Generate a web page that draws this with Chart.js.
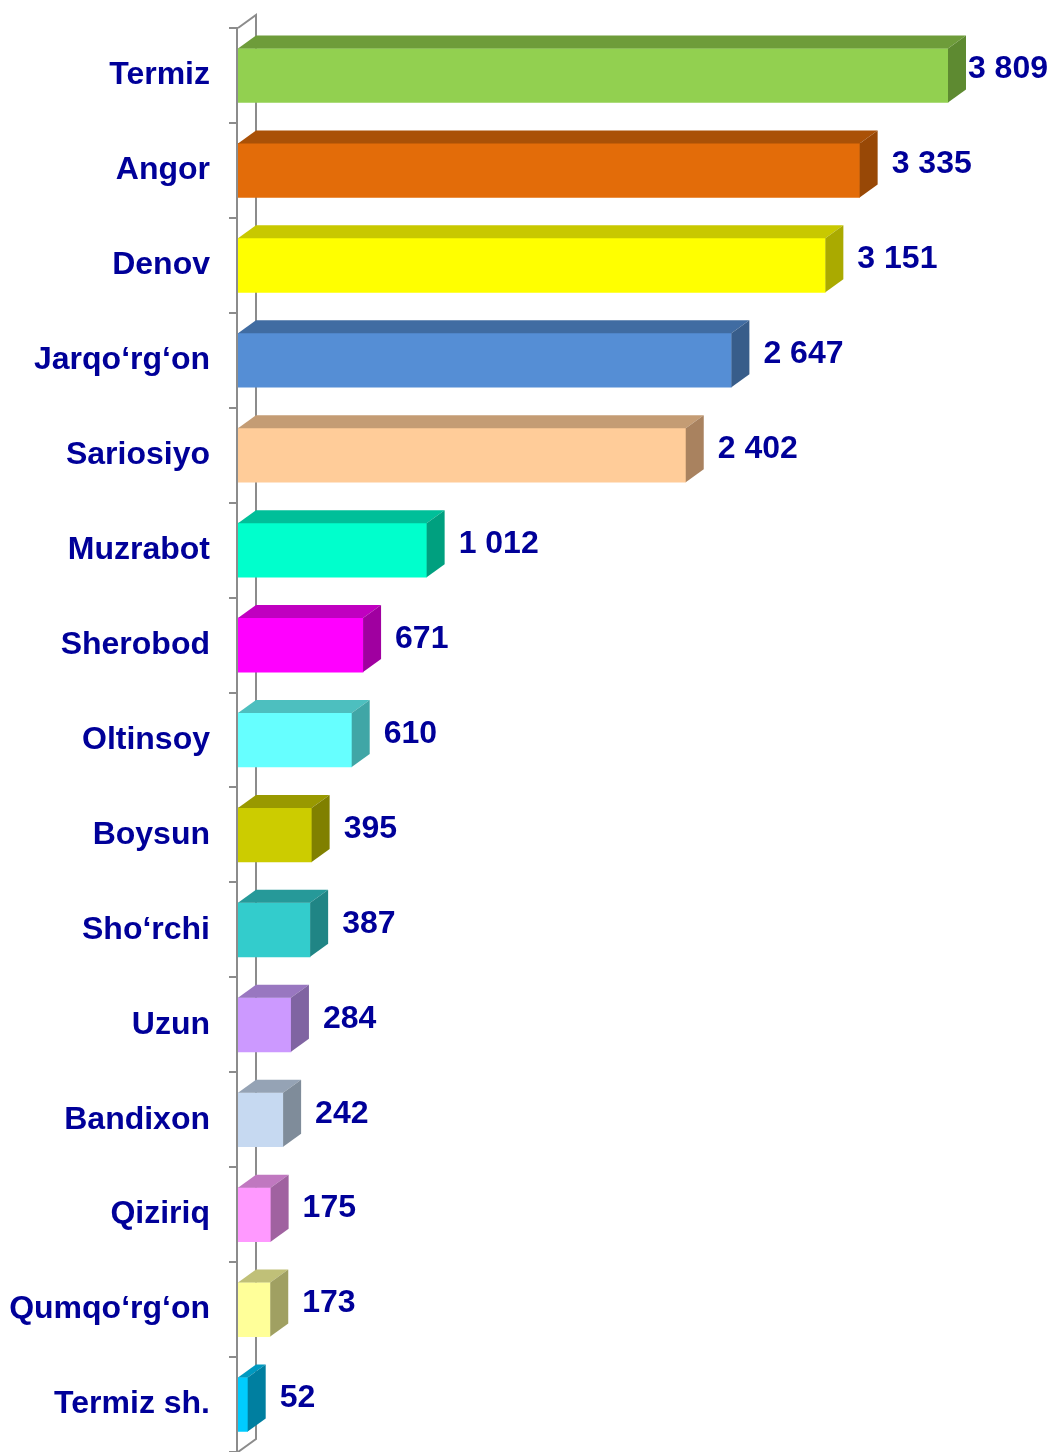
<!DOCTYPE html>
<html>
<head>
<meta charset="utf-8">
<script src="https://cdn.jsdelivr.net/npm/chart.js@4"></script>
<style>
  html, body { margin: 0; padding: 0; background: #fff; }
  canvas { display: block; }
</style>
</head>
<body>
<canvas id="chart" width="1054" height="1452"></canvas>
<script>
'use strict';

var districts = [
  'Termiz', 'Angor', 'Denov', 'Jarqo‘rg‘on', 'Sariosiyo', 'Muzrabot',
  'Sherobod', 'Oltinsoy', 'Boysun', 'Sho‘rchi', 'Uzun', 'Bandixon',
  'Qiziriq', 'Qumqo‘rg‘on', 'Termiz sh.'
];

var counts = [
  3809, 3335, 3151, 2647, 2402, 1012,
  671, 610, 395, 387, 284, 242,
  175, 173, 52
];

// Front, top and side shades of each box.
var frontColors = [
  '#92D050', '#E36C09', '#FFFF00', '#558ED5', '#FFCC99', '#00FFCC',
  '#FF00FF', '#66FFFF', '#CCCC00', '#33CCCC', '#CC99FF', '#C6D9F1',
  '#FF99FF', '#FFFF99', '#00CCFF'
];
var topColors = [
  '#6E9C3A', '#AA5107', '#C8C800', '#406CA2', '#C49C74', '#00BF99',
  '#C000C0', '#4DBFBF', '#999900', '#269999', '#9977C0', '#95A3B5',
  '#C078C0', '#C0C078', '#0099C0'
];
var sideColors = [
  '#5E8A31', '#984806', '#AAAA00', '#385D8A', '#A9825F', '#00A07F',
  '#A000A0', '#40A6A6', '#808000', '#208585', '#8064A2', '#7F8C9A',
  '#A062A0', '#A0A062', '#007FA0'
];

var TEXT_COLOR = '#000099';
var AXIS_COLOR = '#8C8C8C';
var FONT_FAMILY = 'Arial, "Liberation Sans", sans-serif';
var FONT_SIZE = 32;
var DEPTH_X = 18;
var DEPTH_Y = 13;

function formatNumber(n) {
  return String(n).replace(/\B(?=(\d{3})+(?!\d))/g, ' ');
}

// Back wall and tick marks, drawn under the bars.
var axisWall = {
  id: 'axisWall',
  beforeDatasetsDraw: function(chart) {
    var ctx = chart.ctx;
    var area = chart.chartArea;
    var yScale = chart.scales.y;
    var left = area.left;

    ctx.save();
    ctx.strokeStyle = AXIS_COLOR;
    ctx.lineWidth = 2;

    ctx.beginPath();
    ctx.moveTo(left, area.top);
    ctx.lineTo(left + DEPTH_X, area.top - DEPTH_Y);
    ctx.lineTo(left + DEPTH_X, area.bottom - DEPTH_Y);
    ctx.lineTo(left, area.bottom);
    ctx.stroke();

    var band = (area.bottom - area.top) / yScale.ticks.length;
    ctx.beginPath();
    for (var i = 0; i <= yScale.ticks.length; i++) {
      var y = Math.round(area.top + i * band);
      ctx.moveTo(left - 9, y);
      ctx.lineTo(left, y);
    }
    ctx.stroke();
    ctx.restore();
  }
};

// Top and side faces of each bar, the front axis line and the value labels.
var boxFaces = {
  id: 'boxFaces',
  afterDatasetsDraw: function(chart) {
    var ctx = chart.ctx;
    var area = chart.chartArea;
    var meta = chart.getDatasetMeta(0);

    ctx.save();
    meta.data.forEach(function(bar, i) {
      var props = bar.getProps(['x', 'y', 'base', 'height'], true);
      var left = props.base;
      var right = props.x;
      var top = props.y - props.height / 2;
      var bottom = props.y + props.height / 2;

      ctx.fillStyle = topColors[i];
      ctx.beginPath();
      ctx.moveTo(left, top);
      ctx.lineTo(left + DEPTH_X, top - DEPTH_Y);
      ctx.lineTo(right + DEPTH_X, top - DEPTH_Y);
      ctx.lineTo(right, top);
      ctx.closePath();
      ctx.fill();

      ctx.fillStyle = sideColors[i];
      ctx.beginPath();
      ctx.moveTo(right, top);
      ctx.lineTo(right + DEPTH_X, top - DEPTH_Y);
      ctx.lineTo(right + DEPTH_X, bottom - DEPTH_Y);
      ctx.lineTo(right, bottom);
      ctx.closePath();
      ctx.fill();
    });

    ctx.strokeStyle = AXIS_COLOR;
    ctx.lineWidth = 2;
    ctx.beginPath();
    ctx.moveTo(area.left - 1, area.top);
    ctx.lineTo(area.left - 1, area.bottom);
    ctx.stroke();

    ctx.fillStyle = TEXT_COLOR;
    ctx.font = 'bold ' + FONT_SIZE + 'px ' + FONT_FAMILY;
    ctx.textAlign = 'left';
    ctx.textBaseline = 'middle';
    meta.data.forEach(function(bar, i) {
      var text = formatNumber(counts[i]);
      var textWidth = ctx.measureText(text).width;
      // Keep the longest label inside the canvas.
      var x = Math.min(bar.x + DEPTH_X + 14, chart.width - 6 - textWidth);
      ctx.fillText(text, x, bar.y - 6);
    });
    ctx.restore();
  }
};

new Chart(document.getElementById('chart'), {
  type: 'bar',
  data: {
    labels: districts,
    datasets: [{
      data: counts,
      backgroundColor: frontColors,
      borderWidth: 0,
      barThickness: 54
    }]
  },
  options: {
    indexAxis: 'y',
    responsive: false,
    devicePixelRatio: 1,
    animation: false,
    layout: {
      padding: { top: 28, right: 70.4, bottom: 0, left: 0 }
    },
    plugins: {
      legend: { display: false },
      tooltip: { enabled: false }
    },
    scales: {
      x: {
        display: false,
        min: 0,
        max: 4000
      },
      y: {
        grid: { display: false, drawTicks: false },
        border: { display: false },
        ticks: {
          color: TEXT_COLOR,
          padding: 28,
          font: { family: FONT_FAMILY, size: FONT_SIZE, weight: 'bold' }
        },
        afterFit: function(scale) {
          scale.width = 238;
          scale.paddingTop = 0;
          scale.paddingBottom = 0;
        }
      }
    }
  },
  plugins: [axisWall, boxFaces]
});
</script>
</body>
</html>
